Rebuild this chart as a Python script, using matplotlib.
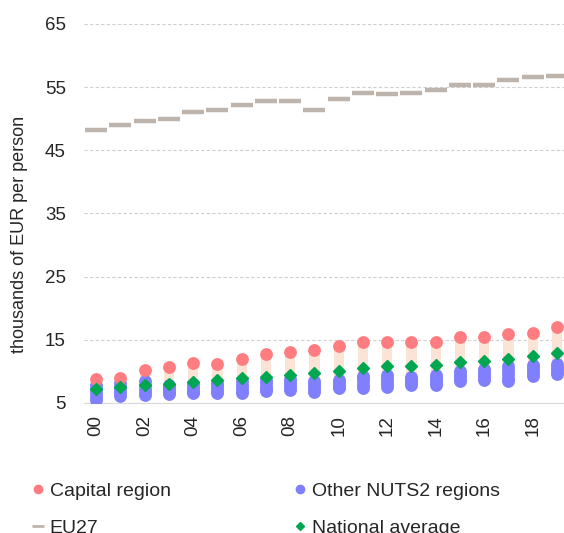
import numpy as np
import matplotlib.pyplot as plt
from matplotlib.lines import Line2D

plt.rcParams['font.family'] = ['Liberation Sans', 'DejaVu Sans']

years = np.arange(2000, 2020)
tick_labels = ['%02d' % (y % 100) for y in years]

eu27 = [48.2, 49.0, 49.6, 49.9, 51.0, 51.4, 52.1, 52.8, 52.8, 51.4,
        53.1, 54.1, 53.9, 54.1, 54.5, 55.3, 55.4, 56.2, 56.6, 56.8]
capital = [8.8, 9.0, 10.2, 10.7, 11.3, 11.2, 12.0, 12.8, 13.1, 13.4,
           14.0, 14.6, 14.7, 14.7, 14.7, 15.5, 15.5, 15.9, 16.1, 17.1]
national = [7.2, 7.5, 7.9, 8.0, 8.3, 8.6, 8.9, 9.1, 9.4, 9.7,
            10.1, 10.6, 10.9, 10.9, 11.0, 11.5, 11.7, 12.0, 12.5, 12.9]

# other NUTS2 regions (estimated, they overlap in the picture)
other_a = [7.9, 8.2, 8.5, 7.9, 8.0, 8.2, 8.4, 8.6, 8.8, 8.4,
           8.6, 9.3, 9.4, 9.1, 9.4, 10.0, 10.3, 10.8, 11.0, 11.1]
other_b = [7.2, 7.6, 7.8, 7.5, 7.6, 7.8, 7.9, 8.1, 8.3, 8.0,
           8.3, 8.9, 9.0, 8.8, 9.0, 9.6, 9.9, 10.2, 10.5, 10.7]
other_c = [6.6, 7.0, 7.2, 7.1, 7.2, 7.3, 7.4, 7.6, 7.8, 7.6,
           7.9, 8.4, 8.5, 8.5, 8.6, 9.2, 9.5, 9.6, 10.1, 10.3]
other_d = [6.0, 6.5, 6.7, 6.7, 6.8, 6.9, 6.9, 7.2, 7.4, 7.1,
           7.6, 7.8, 8.0, 8.2, 8.2, 8.8, 9.1, 9.0, 9.6, 9.9]
other_e = [5.5, 6.1, 6.2, 6.4, 6.5, 6.5, 6.5, 6.9, 7.1, 6.7,
           7.3, 7.4, 7.6, 7.9, 7.9, 8.4, 8.7, 8.5, 9.2, 9.6]
others = [other_a, other_b, other_c, other_d, other_e]

red = '#FF7C80'
blue = '#8080FF'
green = '#00A650'
peach = '#FBE3D6'
grey = '#BFB4AB'
txt = '#262626'

fig = plt.figure(figsize=(5.64, 5.33), dpi=100)
ax = fig.add_axes([0.149, 0.244, 0.86, 0.711])

x = np.arange(len(years))
low = np.min(np.array(others), axis=0)
high = np.array(capital)
ax.bar(x, high - low, bottom=low, width=0.42, color=peach, zorder=1)

ax.plot(x, eu27, linestyle='none', marker='_', markersize=16, mew=3.2,
        color=grey, zorder=3)
for o in others:
    ax.plot(x, o, linestyle='none', marker='o', markersize=8.2, color=blue, zorder=3)
ax.plot(x, capital, linestyle='none', marker='o', markersize=8.2, color=red, zorder=4)
ax.plot(x, national, linestyle='none', marker='D', markersize=6.5, color=green, zorder=5)

ax.set_xlim(-0.5, len(years) - 0.5)
ax.set_ylim(5, 65)
ax.set_yticks(np.arange(5, 66, 10))
ax.set_xticks(x[::2])
ax.set_xticklabels(tick_labels[::2], rotation=90, fontsize=13.5, color=txt)
ax.tick_params(axis='y', labelsize=13.5, colors=txt, length=0, pad=13)
ax.tick_params(axis='x', length=0, pad=9)
ax.set_ylabel('thousands of EUR per person', fontsize=13, color=txt)
ax.yaxis.set_label_coords(-0.115, 0.445)
ax.yaxis.grid(True, color='#D0D0D0', linestyle=(0, (3, 2)), linewidth=0.8)
ax.set_axisbelow(True)
for s in ax.spines.values():
    s.set_visible(False)
ax.spines['bottom'].set_visible(True)
ax.spines['bottom'].set_color('#D9D9D9')
ax.spines['bottom'].set_linewidth(0.8)

handles = [
    Line2D([], [], linestyle='none', marker='o', markersize=6, color=red),
    Line2D([], [], linestyle='none', marker='_', markersize=8, mew=2.0, color=grey),
    Line2D([], [], linestyle='none', marker='o', markersize=6, color=blue),
    Line2D([], [], linestyle='none', marker='D', markersize=4.5, color=green),
]
labels = ['Capital region', 'EU27', 'Other NUTS2 regions', 'National average']
leg = fig.legend(handles, labels, loc='upper left',
                 bbox_to_anchor=(0.043, 0.11), ncol=2, frameon=False,
                 fontsize=14, handlelength=0.6, handletextpad=0.31,
                 columnspacing=6.35, labelspacing=1.0, borderaxespad=0)
for t in leg.get_texts():
    t.set_color(txt)

fig.savefig('out.png', dpi=100)
